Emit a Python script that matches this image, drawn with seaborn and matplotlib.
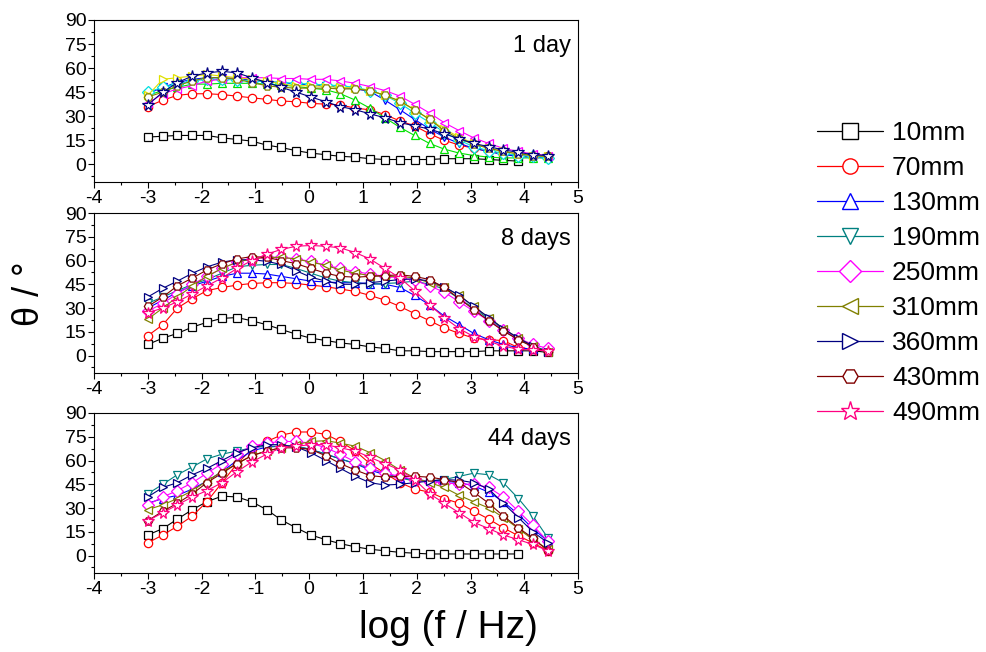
import numpy as np
import pandas as pd
import matplotlib
matplotlib.use("Agg")
import matplotlib.pyplot as plt
import seaborn as sns
from matplotlib.lines import Line2D
from matplotlib.ticker import MultipleLocator

sns.set_style("ticks")
plt.rcParams['font.family'] = ['Liberation Sans', 'DejaVu Sans']
plt.rcParams['axes.unicode_minus'] = False
plt.rcParams['text.color'] = 'black'
plt.rcParams['xtick.color'] = 'black'
plt.rcParams['ytick.color'] = 'black'

# log frequency grid (28 points)
log_f = [-3.00, -2.72, -2.45, -2.17, -1.90, -1.62, -1.34, -1.07, -0.79, -0.52,
         -0.24, 0.03, 0.31, 0.58, 0.86, 1.13, 1.41, 1.69, 1.96, 2.24,
         2.51, 2.79, 3.06, 3.34, 3.61, 3.89, 4.16, 4.44]

labels = ['10mm', '70mm', '130mm', '190mm', '250mm', '310mm', '360mm', '430mm', '490mm']
markers = ['s', 'o', '^', 'v', 'D', '<', '>', 'H', '*']
colors = ['#000000', '#FF0000', '#0000FF', '#008080', '#FF00FF', '#808000', '#000080', '#800000', '#FF0080']
# the 1 day panel was drawn with a different colour set
colors_1day = ['#000000', '#FF0000', '#00E000', '#0000FF', '#00E0E0', '#FF00FF', '#E0E000', '#808000', '#000080']

day1 = {
    '10mm': [17, 17.5, 18, 18, 18, 16.5, 15.5, 14.5, 12, 10.5, 8.5, 7, 6, 5, 4.5, 3.5, 3, 3, 3, 3, 3.5, 3.5, 3.5, 3, 2.5, 2],
    '70mm': [36, 40, 43, 44, 44, 43.5, 42.5, 41.5, 40.5, 39.5, 39, 38, 37.5, 37, 35, 34, 31, 27, 24, 19, 15, 12, 10, 8, 6.5, 5.5, 5, 5],
    '130mm': [43, 46, 48, 50, 50, 50.5, 50.5, 50.5, 50, 49.5, 48.5, 47.5, 46.5, 44, 40, 35, 29, 23, 18, 13, 9.5, 7, 5.5, 4.5, 4, 4, 4, 4],
    '190mm': [44, 48, 51, 53, 54, 54, 53.5, 52.5, 51.5, 51, 50, 49.5, 49, 48, 47, 45.5, 40, 34, 28, 22, 17, 13, 10, 8, 6, 5, 4.5, 4],
    '250mm': [45, 48, 50, 52, 53, 53, 52.5, 52, 51.5, 51, 50.5, 50, 49.5, 49, 48, 46, 43, 38, 32, 26, 20, 15, 11, 8.5, 7, 5.5, 5, 4],
    '310mm': [38, 44, 47, 49, 52, 53, 54, 54, 54, 53.5, 53.5, 53, 53, 52, 50.5, 48.5, 46, 42.5, 37.5, 32, 26, 21, 16.5, 13, 10, 8, 6.5, 5.5],
    '360mm': [43, 53, 54, 55, 56, 55, 54, 53, 52, 50, 49, 49, 48.5, 48, 47.5, 46, 43, 39, 34, 28, 22, 17, 13, 10, 8, 6.5, 5.5, 5],
    '430mm': [42, 45, 49, 52, 54, 54, 53, 51, 49, 48, 47.5, 47.5, 47.5, 47, 47, 46, 43, 39.5, 34, 28, 21, 16, 12.5, 10, 8, 6.5, 5.5, 5],
    '490mm': [37, 45, 51, 55, 57, 58, 57, 54, 51, 48, 45, 42, 39, 36, 34, 31.5, 29, 26, 24, 22, 19, 16, 13, 11, 9, 7.5, 6, 5.5],
}

day8 = {
    '10mm': [7, 11, 14, 18, 21, 23.5, 24, 22, 19.5, 16.5, 13.5, 11, 9.5, 8, 7, 5.5, 4.5, 3, 3, 2.5, 2.5, 2.5, 2.5, 3, 3, 3, 3, 2],
    '70mm': [12.5, 19.5, 30, 36, 41, 43, 44.5, 45.5, 46, 46, 45.5, 44.5, 43.5, 42, 40.5, 38, 35, 31, 26.5, 22, 17.5, 14, 11, 10, 9.5, 5, 4, 3],
    '130mm': [30, 35, 40, 44, 47, 50, 52, 52, 51.5, 50, 48.5, 47, 46.5, 46, 46, 45.5, 45, 43, 38, 32, 25, 19.5, 14, 10, 7, 5, 4, 3],
    '190mm': [33, 37, 41, 45, 48, 52, 56, 57, 57.5, 57.5, 55, 52, 49, 47, 46, 45, 45.5, 46, 47, 45, 42, 36, 30, 23, 16, 10, 6, 3],
    '250mm': [28, 33, 39, 45, 50, 55, 59, 61, 62, 62, 61, 59.5, 57, 55, 53, 51.5, 50, 49, 47.5, 44, 40, 34, 28, 22, 16, 11, 7, 4.5],
    '310mm': [23, 30, 37, 44, 50, 55, 59, 61, 62, 62, 61, 59, 57, 54, 52, 50.5, 50, 50, 49, 46, 43, 38, 31, 24, 17, 11, 6, 2],
    '360mm': [37, 42.5, 47, 52, 56, 59, 60.5, 60.5, 59.5, 57.5, 53.5, 49.5, 47, 45, 45, 46, 47, 48, 48.5, 47, 43.5, 38, 31, 24, 17, 11, 6, 2],
    '430mm': [31, 37, 44, 49, 54, 58, 61, 62.5, 62, 60, 58, 55, 52, 50, 49.5, 50, 50.5, 51, 50, 48, 43, 36, 29, 22, 15.5, 10, 5.5, 2],
    '490mm': [27, 30, 34, 39, 44, 49, 55, 60, 64, 67, 69, 69.5, 69, 68, 65, 61, 55, 49, 41, 32, 24, 17, 12, 9, 6, 4, 3.5, 3],
}

day44 = {
    '10mm': [13, 17, 23, 29, 34, 37.5, 37, 34, 29, 22.5, 17.5, 13, 10, 7.5, 5.5, 4, 3, 2, 1.5, 1, 1, 1, 1, 1, 1, 1],
    '70mm': [8, 13, 18.5, 25, 34, 46, 58, 67, 72, 76, 78, 78, 76.5, 72, 66, 58, 52, 46, 42, 40, 36, 33, 28, 23, 17.5, 12.5, 8, 3],
    '130mm': [33, 36, 38, 42, 47, 53, 60, 66, 68.5, 69, 69, 67, 64, 61, 58, 54, 51, 49, 48, 47, 47, 46, 44, 40, 34, 26, 17, 9],
    '190mm': [39, 45, 51, 56, 61, 64, 66, 68, 69, 69, 69, 67, 64, 61, 58, 55, 52, 49, 47, 47, 48, 50, 52, 51, 46, 36, 25, 11],
    '250mm': [32, 37, 41, 46, 52, 58, 64, 69, 71, 72, 72, 71, 68, 64, 59, 55, 52, 50, 48, 46.5, 46, 45, 45, 43, 37, 28, 19, 9],
    '310mm': [29, 32, 36, 41, 47, 53, 58, 63, 66, 68, 70, 72, 72.5, 71, 69, 65, 60, 54, 49, 46, 43, 38, 34, 30, 24, 17, 10, 4],
    '360mm': [37, 43, 46, 51, 55, 60, 65, 68, 70, 70, 68.5, 65, 60, 55, 50, 46, 44.5, 45, 46, 47, 48, 47.5, 46, 42, 33, 24, 15, 8],
    '430mm': [22, 28, 33, 39, 46, 52, 58, 63, 66, 68, 68, 67, 63, 58, 54, 50.5, 49.5, 50, 50, 49.5, 48, 46, 40, 33, 25, 17.5, 11, 3],
    '490mm': [22, 27, 32, 37, 41, 46, 53, 59, 64, 68, 69, 70, 70, 68, 66, 62, 58, 54, 48, 39, 33, 27, 21, 17, 13, 10, 7, 3],
}

panels = [('1 day', day1, colors_1day), ('8 days', day8, colors), ('44 days', day44, colors)]

fig = plt.figure(figsize=(9.86, 6.52), dpi=100)
boxes = [[0.0953, 0.7209, 0.491, 0.2485],
         [0.0953, 0.4279, 0.491, 0.2454],
         [0.0953, 0.1212, 0.491, 0.2454]]

for (title, data, cols), box in zip(panels, boxes):
    ax = fig.add_axes(box)
    for i, lab in enumerate(labels):
        y = data[lab]
        df = pd.DataFrame({'x': log_f[:len(y)], 'y': y})
        ms = 8.5 if markers[i] == '*' else 6
        sns.lineplot(data=df, x='x', y='y', ax=ax, color=cols[i], marker=markers[i],
                     markersize=ms, markerfacecolor='white', markeredgecolor=cols[i],
                     markeredgewidth=0.9, linewidth=0.8, zorder=2 + i)
    ax.set_xlim(-4, 5)
    ax.set_ylim(-11, 90)
    ax.xaxis.set_major_locator(MultipleLocator(1))
    ax.xaxis.set_minor_locator(MultipleLocator(0.5))
    ax.yaxis.set_major_locator(MultipleLocator(15))
    ax.yaxis.set_minor_locator(MultipleLocator(7.5))
    ax.tick_params(which='major', direction='out', length=4, width=0.8, labelsize=14, pad=1.5)
    ax.tick_params(which='minor', direction='out', length=2.5, width=0.8)
    for s in ax.spines.values():
        s.set_linewidth(0.8)
        s.set_color('black')
    ax.set_xlabel('')
    ax.set_ylabel('')
    ax.text(0.985, 0.84, title, transform=ax.transAxes, ha='right', va='center', fontsize=17)

handles = [Line2D([], [], color=colors[i], marker=markers[i], markersize=(14 if markers[i] == '*' else 11),
                  markerfacecolor='white', markeredgecolor=colors[i], linewidth=0.9)
           for i in range(len(labels))]
fig.legend(handles, labels, loc='upper left', bbox_to_anchor=(0.815, 0.835), frameon=False,
           fontsize=19, handlelength=2.5, handletextpad=0.35, labelspacing=0.42, borderpad=0)

fig.text(0.455, 0.037, 'log (f / Hz)', ha='center', va='center', fontsize=28)
fig.text(0.03, 0.55, 'θ / °', ha='center', va='center', rotation=90, fontsize=26)

fig.savefig('out.png', dpi=100)
